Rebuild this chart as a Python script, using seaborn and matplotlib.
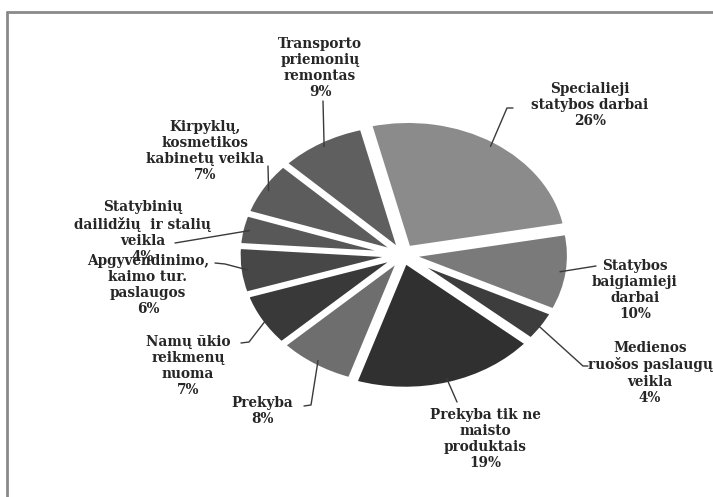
import numpy as np
import matplotlib
matplotlib.use("Agg")
import matplotlib.pyplot as plt
import seaborn as sns

# ---- data ----
categories = [
    "Specialieji\nstatybos darbai",
    "Statybos\nbaigiamieji\ndarbai",
    "Medienos\nruošos paslaugų\nveikla",
    "Prekyba tik ne\nmaisto\nproduktais",
    "Prekyba",
    "Namų ūkio\nreikmenų\nnuoma",
    "Apgyvendinimo,\nkaimo tur.\npaslaugos",
    "Statybinių\ndailidžių  ir stalių\nveikla",
    "Kirpyklų,\nkosmetikos\nkabinetų veikla",
    "Transporto\npriemonių\nremontas",
]
shares = [26, 10, 4, 19, 8, 7, 6, 4, 7, 9]

# ---- styling / layout ----
colors = ["#8b8b8b", "#7a7a7a", "#3d3d3d", "#303030", "#6e6e6e",
          "#393939", "#474747", "#585858", "#5c5c5c", "#5f5f5f"]
explode = [0.06, 0.04, 0.04, 0.05, 0.03, 0.03, 0.03, 0.03, 0.03, 0.03]
# text centres (px) and leader elbow points (px)
text_pos = [(590, 105), (635, 290), (650, 373), (485, 439), (262, 411),
            (188, 366), (148, 285), (143, 232), (205, 151), (320, 68)]
leaders = [[(507, 108), (513, 108)],
           [(596, 266)],
           [(583, 366), (588, 366)],
           [(457, 402)],
           [(311, 405), (304, 406)],
           [(249, 342), (241, 343)],
           [(225, 264), (215, 263)],
           [(175, 243)],
           [(268, 166)],
           [(323, 101)]]

W, H = 713, 497
CX, CY, RX, RY = 403, 255, 160, 128

sns.set_theme(style="white")
fig = plt.figure(figsize=(W / 100, H / 100), dpi=100)
fig.patch.set_facecolor("white")
ax = fig.add_axes([0, 0, 1, 1])

wedges, _ = ax.pie(shares, colors=colors, startangle=104, counterclock=False,
                   explode=explode, wedgeprops=dict(edgecolor="white", linewidth=3.5))
ax.set_aspect("auto")
ax.set_xlim(-CX / RX, (W - CX) / RX)
ax.set_ylim(-(H - CY) / RY, CY / RY)
ax.axis("off")


def px(p):
    return ((p[0] - CX) / RX, (CY - p[1]) / RY)


for w, lab, val, tp, ld, ex in zip(wedges, categories, shares, text_pos, leaders, explode):
    mid = np.deg2rad((w.theta1 + w.theta2) / 2)
    r = 0.95 + ex
    start = (r * np.cos(mid), r * np.sin(mid))
    pts = [start] + [px(p) for p in ld]
    ax.plot([p[0] for p in pts], [p[1] for p in pts], color="#3a3a3a", lw=1.0)
    tx, ty = px(tp)
    ax.text(tx, ty, f"{lab}\n{val}%", ha="center", va="center",
            family="DejaVu Serif", fontweight="bold", fontsize=9.8,
            color="#262626", linespacing=1.2)

# frame of the scanned figure
ax.plot([px((7, 12))[0], px((7, 500))[0]], [px((7, 12))[1], px((7, 500))[1]],
        color="#8a8a8a", lw=2.0, clip_on=False)
ax.plot([px((7, 12))[0], px((713, 12))[0]], [px((7, 12))[1], px((713, 12))[1]],
        color="#8a8a8a", lw=2.0, clip_on=False)

fig.savefig("out.png", dpi=100, facecolor="white")
